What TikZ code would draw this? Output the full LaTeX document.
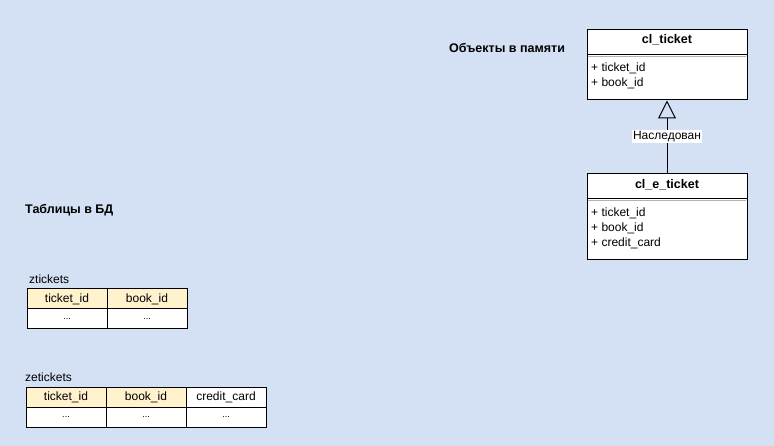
\documentclass[tikz,border=0pt]{standalone}
\usepackage{fontspec}
\setmainfont{Liberation Sans}
\usetikzlibrary{arrows.meta}
\definecolor{bgblue}{RGB}{212,225,245}
\definecolor{headyellow}{RGB}{255,242,204}

\begin{document}
\begin{tikzpicture}[x = 1pt, y = -1pt, font = \fontsize{12}{14}\selectfont,
		classbox/.style = {draw, fill = white, line width = 1pt, minimum width = 160pt, inner sep = 0pt},
		cell/.style = {draw, line width = 1pt, minimum width = 80pt, minimum height = 20pt, inner sep = 0pt},
		headcell/.style = {cell, fill = headyellow},
		dots/.style = {cell, fill = white, font = \fontsize{9}{10}\selectfont},
		attr/.style = {anchor = west, inner sep = 0pt},
		title/.style = {font = \fontsize{12.5}{14}\selectfont\bfseries, inner sep = 0pt}]
	\useasboundingbox[fill = bgblue] (0, 0) rectangle (774, 446);
	% objects in memory
		\node[title] (memtitle) at (507, 48) {Объекты в памяти};
	\node[classbox, minimum height = 70pt] (ticket) at (667, 65) {};
		\draw[line width = 1pt] (587, 55) -- (747, 55);
		\draw[gray!60, line width = 1pt] (588, 57) -- (746, 57);
		\node[title] (ticketname) at (667, 39.5) {cl\_ticket};
		\node[attr] (ta) at (591, 68) {+ ticket\_id};
		\node[attr] (tb) at (591, 83) {+ book\_id};
	\node[classbox, minimum height = 86pt] (eticket) at (667, 217) {};
		\draw[line width = 1pt] (587, 199) -- (747, 199);
		\draw[gray!60, line width = 1pt] (588, 201) -- (746, 201);
		\node[title] (eticketname) at (667, 184.5) {cl\_e\_ticket};
		\node[attr] (ea) at (591, 213) {+ ticket\_id};
		\node[attr] (eb) at (591, 228) {+ book\_id};
		\node[attr] (ec) at (591, 243) {+ credit\_card};
	\draw[line width = 1pt, -{Triangle[open, length = 18pt, width = 18pt]}] (eticket) -- (ticket)
		node[pos = 0.51, fill = white, inner sep = 1pt] (inh) {Наследован};
	% tables in the database
		\node[title, anchor = west] (dbtitle) at (25, 210) {Таблицы в БД};
	\node[attr] (zname) at (29, 279) {ztickets};
	\node[headcell] (z11) at (67, 299) {ticket\_id};
	\node[headcell] (z12) at (147, 299) {book\_id};
	\node[dots] (z21) at (67, 319) {...};
	\node[dots] (z22) at (147, 319) {...};
	\node[attr] (zename) at (25, 377) {zetickets};
	\node[headcell] (ze11) at (66, 397) {ticket\_id};
	\node[headcell] (ze12) at (146, 397) {book\_id};
	\node[cell, fill = white] (ze13) at (226, 397) {credit\_card};
	\node[dots] (ze21) at (66, 417) {...};
	\node[dots] (ze22) at (146, 417) {...};
	\node[dots] (ze23) at (226, 417) {...};
\end{tikzpicture}
\end{document}
